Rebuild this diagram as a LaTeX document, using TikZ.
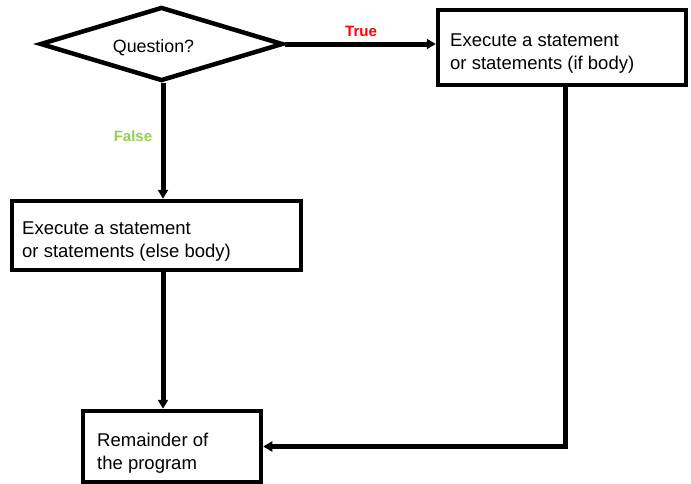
\documentclass[tikz,border=0pt]{standalone}
\usepackage{fontspec}
\setmainfont{Liberation Sans}
\usetikzlibrary{shapes.geometric,arrows.meta}
\definecolor{truered}{RGB}{255,0,0}
\definecolor{falsegreen}{RGB}{146,208,80}
\tikzset{
  box/.style={draw=black,line width=4.5pt,fill=white,rectangle,inner sep=0pt},
  txt/.style={inner sep=0pt,align=left,font=\fontsize{18.5}{23.5}\selectfont},
  lbl/.style={inner sep=0pt,font=\fontsize{15}{18}\selectfont\bfseries},
  arr/.style={line width=5pt,-{Triangle[length=9pt,width=10pt]}}
}
\begin{document}
\begin{tikzpicture}[x=1pt,y=-1pt]
\useasboundingbox (0,0) rectangle (691,483);
\begin{scope}
\clip (0,0) rectangle (691,483);
% decision
\node[diamond,draw=black,line width=4.5pt,inner sep=0pt,minimum width=243pt,minimum height=74pt,aspect=3.28] (q) at (161.5,44) {};
\node[inner sep=0pt,anchor=base,font=\fontsize{17.8}{22}\selectfont] (qt) at (153.5,52) {Question?};
% boxes
\node[box,minimum width=248pt,minimum height=75pt] (ifb) at (562,47.5) {};
\node[txt,anchor=north west] (ift) at (450,33.5) {Execute a statement\\or statements (if body)};
\node[box,minimum width=289pt,minimum height=69pt] (elseb) at (156.5,235.5) {};
\node[txt,anchor=north west] (elset) at (22,221.5) {Execute a statement\\or statements (else body)};
\node[box,minimum width=178pt,minimum height=71pt] (rem) at (172,446.5) {};
\node[txt,anchor=north west] (remt) at (97,432.5) {Remainder of\\the program};
% helper coordinates
\coordinate (vx) at (163,0);
\coordinate (rx) at (565,0);
% connectors
\draw[arr] (q.east) -- (ifb.west |- q.east);
\draw[arr] (q.south -| vx) -- (elseb.north -| vx);
\draw[arr] (elseb.south -| vx) -- (rem.north -| vx);
\draw[arr] (ifb.south -| rx) |- (rem.east);
% labels
\node[lbl,text=truered,anchor=base] (tl) at (361,36) {True};
\node[lbl,text=falsegreen,anchor=base] (fl) at (133,141.7) {False};
\end{scope}
\end{tikzpicture}
\end{document}
